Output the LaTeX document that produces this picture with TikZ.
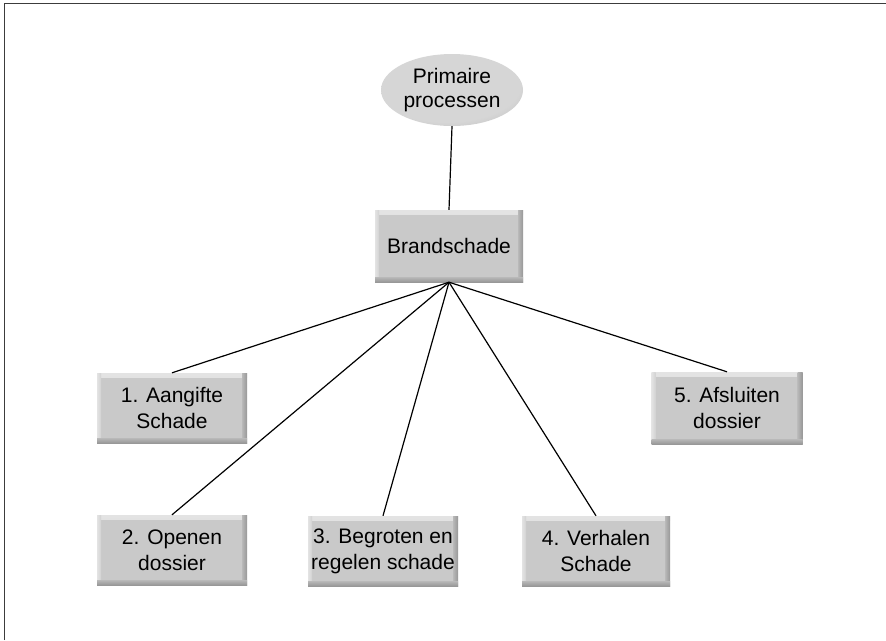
\documentclass[tikz,border=0pt]{standalone}
\usepackage{fontspec}
\setmainfont{Liberation Sans}
\usetikzlibrary{shapes.geometric}
\definecolor{boxfill}{RGB}{201,201,201}
\definecolor{boxedge}{RGB}{135,135,135}
\definecolor{boxlight}{RGB}{236,236,236}
\definecolor{ovalin}{RGB}{214,214,214}
\definecolor{ovalout}{RGB}{155,155,155}
\definecolor{framecol}{RGB}{60,60,60}
% soft bevel ramps for the box edges
\pgfdeclarehorizontalshading{rampdarkR}{100bp}{color(0bp)=(boxfill); color(100bp)=(boxedge)}
\pgfdeclarehorizontalshading{ramplightL}{100bp}{color(0bp)=(boxlight); color(100bp)=(boxfill)}
\pgfdeclareverticalshading{rampdarkB}{100bp}{color(0bp)=(boxedge); color(100bp)=(boxfill)}
\pgfdeclareverticalshading{ramplightT}{100bp}{color(0bp)=(boxfill); color(100bp)=(boxlight)}
\pgfdeclareradialshading{ovalshade}{\pgfpoint{-4bp}{8bp}}{color(0bp)=(ovalin); color(26bp)=(ovalin); color(50bp)=(ovalout)}
\begin{document}
\begin{tikzpicture}[x=1pt,y=-1pt,
  lbl/.style={font=\fontsize{21}{26}\selectfont, align=center, text=black},
  taskbox/.style={lbl, rectangle, fill=boxfill, minimum width=150pt, minimum height=70pt, inner sep=0pt,
    path picture={
      \shade[shading=ramplightT]
        (path picture bounding box.north west) rectangle ([yshift=-4pt]path picture bounding box.north east);
      \shade[shading=ramplightL]
        (path picture bounding box.north west) rectangle ([xshift=4pt]path picture bounding box.south west);
      \shade[shading=rampdarkR]
        ([xshift=-5pt]path picture bounding box.north east) rectangle (path picture bounding box.south east);
      \shade[shading=rampdarkB]
        ([yshift=5pt]path picture bounding box.south west) rectangle (path picture bounding box.south east);
    }},
  oval/.style={lbl, ellipse, shading=ovalshade, minimum width=142pt, minimum height=72pt, inner sep=0pt,
    font=\fontsize{21}{24}\selectfont},
  link/.style={draw=black, line width=1.2pt}
]
\useasboundingbox (0,0) rectangle (886,640);
% frame
\draw[framecol, line width=1.6pt] (4.5,640) -- (4.5,3.5) -- (886,3.5);

% nodes
\node[oval] (top) at (452,90) {Primaire\\processen};
\node[taskbox, minimum width=148pt, minimum height=72pt] (brand) at (449,246) {Brandschade};
\node[taskbox] (a1) at (172,408) {1. Aangifte\\Schade};
\node[taskbox] (a2) at (172,550) {2. Openen\\dossier};
\node[taskbox] (a3) at (383,551) {3. Begroten en\\regelen schade};
\node[taskbox, minimum width=148pt] (a4) at (596,551) {4. Verhalen\\Schade};
\node[taskbox, minimum width=151pt, minimum height=72pt] (a5) at (727,408) {5. Afsluiten\\dossier};

% connectors
\draw[link] (top.south) -- (brand.north);
\draw[link] (brand.south) -- (a1.north);
\draw[link] (brand.south) -- (a2.north);
\draw[link] (brand.south) -- (a3.north);
\draw[link] (brand.south) -- (a4.north);
\draw[link] (brand.south) -- (a5.north);
\end{tikzpicture}
\end{document}
